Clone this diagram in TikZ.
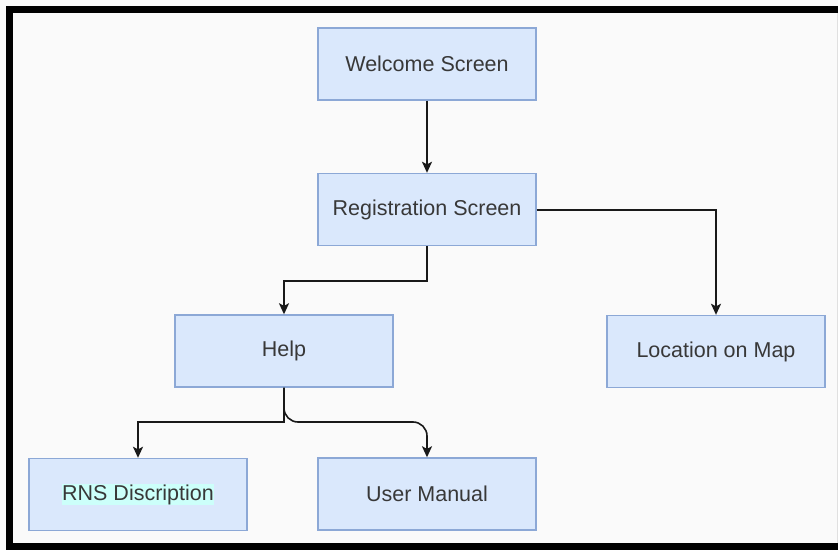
\documentclass[tikz,border=0pt]{standalone}
\usepackage{fontspec}
\setmainfont{Liberation Sans}
\usetikzlibrary{arrows.meta}
\definecolor{boxfill}{HTML}{DAE8FC}
\definecolor{boxline}{HTML}{8CA8D6}
\definecolor{textgray}{HTML}{383838}
\definecolor{hilite}{HTML}{CCFFFA}
\tikzset{
  x=1pt, y=1pt,
  screen/.style={draw=boxline, fill=boxfill, line width=1.4pt,
    minimum width=218pt, minimum height=72pt, inner sep=0pt,
    text=textgray, font=\fontsize{21.5}{25}\selectfont},
  link/.style={draw=black!90, line width=1.6pt,
    -{Stealth[length=11pt,width=10pt,inset=2.5pt]}},
}
\begin{document}
\begin{tikzpicture}
  \useasboundingbox (0,0) rectangle (838,550);
  \fill[white!98!black] (0,0) rectangle (838,550);
  % outer frame (left, top, bottom)
  \fill[black] (6,0) rectangle (13,544);
  \fill[black] (6,537) rectangle (838,544);
  \fill[black] (6,0) rectangle (838,7);
  \draw[black!12, line width=1pt] (837,7) -- (837,537);

  % screens
  \node[screen] (welcome) at (427,486)   {Welcome Screen};
  \node[screen] (reg)     at (427,340.5) {Registration Screen};
  \node[screen] (help)    at (284,199)   {Help};
  \node[screen] (loc)     at (716,198.5) {Location on Map};
  \node[screen] (rns)     at (138,55.5)  {\setlength\fboxsep{0.5pt}\colorbox{hilite}{RNS Discription}};
  \node[screen] (manual)  at (427,56)    {User Manual};

  % bend points
  \coordinate (regdrop) at (427,269);
  \coordinate (regside) at (716,340);
  \coordinate (helpdrop) at (284,128);

  % connectors
  \draw[link] (welcome) -- (reg);
  \draw[link] (reg.south) -- (regdrop) -| (help.north);
  \draw[link] (reg.east |- regside) -- (regside) -- (loc.north);
  \draw[link] (help.south) -- (helpdrop) -| (rns.north);
  \draw[link, rounded corners=14pt] (help.south) -- (helpdrop) -| (manual.north);
\end{tikzpicture}
\end{document}
